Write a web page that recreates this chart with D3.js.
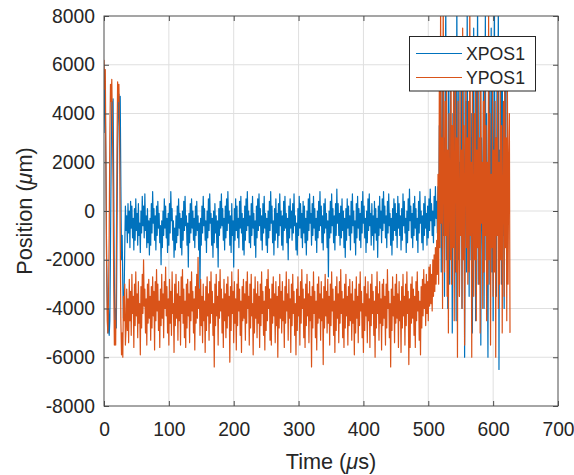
<!DOCTYPE html>
<html><head><meta charset="utf-8">
<script src="https://cdn.jsdelivr.net/npm/d3@7"></script>
<style>
body{margin:0;background:#fff;}
text{font-family:"Liberation Sans",Arial,Helvetica,sans-serif;fill:#262626;}
</style></head>
<body><svg id="c" width="574" height="475"></svg>
<script>
// sampling step of both signals (µs)
const dt = 1;
const seriesNames = ["XPOS1", "YPOS1"];
const xTicks = [0,100,200,300,400,500,600,700];
const yTicks = [-8000,-6000,-4000,-2000,0,2000,4000,6000,8000];

// XPOS1 (µm), one value every 1 µs from t = 0
const xpos1 = [
 3200,5000,4500,1500,-2000,-3500,-5000,-4000,-5100,-4500,-1500,2000,4500,3000,4600,1000,-3000,-5200,-4000,-4800,
 -1000,2500,4000,4800,3500,4700,1000,-2000,-1000,-3000,-4400,-3500,-1500,200,-800,
 -200,-1300,300,-900,0,-1500,400,-700,200,-1100,-300,-1600,
 100,-1200,500,-800,-100,-1400,300,-1000,-500,-1700,0,-900,
 600,-600,200,-1100,700,-800,-200,-1500,100,-1300,-400,-1800,
 -300,-1400,300,-900,800,-500,100,-1200,-200,-1600,200,-1000,
 400,-700,-100,-1300,-600,-2200,-400,-1500,0,-1000,500,-700,
 200,-1100,-300,-1700,-100,-1400,300,-900,800,-400,100,-1200,
 -400,-1900,-700,-1600,-200,-1300,200,-1000,500,-700,-100,-1500,
 -300,-1800,0,-1200,400,-800,600,-600,-200,-1400,-500,-2300,
 -100,-1300,300,-900,500,-700,0,-1200,-300,-1500,200,-1000,
 400,-800,-200,-1600,-500,-3200,-300,-1400,200,-900,600,-600,
 100,-1200,-400,-1700,0,-1100,500,-800,700,-500,-100,-1400,
 -300,-1900,0,-1300,300,-900,-200,-1500,-400,-2300,100,-1000,
 400,-700,700,-600,100,-1200,-300,-1600,200,-1100,500,-800,
 800,-500,0,-1400,-200,-1700,300,-1000,-400,-2300,100,-1200,
 500,-800,200,-1100,-300,-1500,400,-700,600,-900,-100,-1600,
 -300,-1800,200,-1200,500,-800,800,-600,0,-1300,-200,-1500,
 300,-1000,600,-700,-100,-1400,-400,-1900,200,-1100,500,-800,
 700,-600,100,-1200,-200,-1600,300,-900,600,-700,-100,-1400,
 -300,-1700,0,-1100,400,-800,800,-500,200,-1300,-400,-1800,
 100,-1200,500,-900,-100,-1500,300,-1000,700,-600,0,-1400,
 -200,-1600,400,-800,600,-700,-100,-1300,-300,-2000,200,-1100,
 500,-700,0,-1200,300,-900,700,-600,-200,-1600,-500,-1800,
 100,-1000,600,-700,300,-1100,-100,-1500,400,-900,200,-1300,
 -300,-1800,0,-1200,500,-800,700,-500,-100,-1400,300,-1000,
 600,-700,100,-1200,-300,-1700,0,-1100,400,-800,800,-600,
 200,-1300,-200,-1600,300,-900,500,-700,-100,-1500,-400,-2700,
 0,-1100,400,-900,700,-600,100,-1300,-200,-1600,300,-1000,
 900,-500,300,-1000,-100,-1400,200,-1100,500,-800,0,-1500,
 -300,-1900,100,-1200,500,-700,200,-1000,-200,-1600,400,-900,
 700,-600,0,-1300,-400,-1800,300,-1100,600,-700,100,-1200,
 -100,-1500,400,-900,800,-500,200,-1100,-300,-1700,0,-1300,
 500,-800,700,-600,-100,-1400,300,-1000,-200,-1600,400,-900,
 100,-1200,-300,-1900,200,-1000,600,-700,0,-1300,500,-800,
 800,-500,200,-1100,-200,-1500,400,-900,700,-600,-100,-1400,
 -300,-1800,100,-1200,500,-800,300,-1000,-100,-1500,600,-700,
 300,-1000,-200,-1600,100,-1200,700,-600,400,-900,-300,-1700,
 0,-1300,500,-800,900,-400,200,-1100,-100,-1500,300,-1000,
 600,-700,100,-1200,-300,-1700,400,-900,800,-500,0,-1300,
 -200,-1600,300,-1000,600,-700,-100,-1400,200,-1100,500,-800,
 900,-400,300,-1000,0,-1300,600,-600,1000,-300,400,-900,
 1000,-1500,3500,-500,5000,-2500,2000,6500,-1000,3000,-3500,4500,
 8500,-2000,1500,-4000,5500,500,-3000,7000,-1500,2500,-5000,4000,
 -500,6000,-2500,3500,-4500,9000,0,-2000,5000,-3500,2000,-1000,
 7000,-4000,3000,-500,5500,-6000,1500,4500,-2500,8500,-1500,3000,
 -3500,6000,500,-2000,4000,-5000,2500,7500,-1000,3500,-4500,5000,
 -500,9000,-3000,2000,-1500,6500,-5500,3000,500,-2500,5500,-4000,
 2500,8000,-2000,4000,-1000,-6000,3500,6000,-3000,1000,7500,-2500,
 4500,-4500,2000,8500,-1500,3000,-3500,6000,-500,9000,-6500,2500,
 -2000,5000,-3000,7000,-1000,3500,-4000,6500,500,5000
];

// YPOS1 (µm), one value every 1 µs from t = 0
const ypos1 = [
 6200,5000,5800,2000,-2000,-4500,-5000,-3500,-1000,3000,5200,4500,5400,3500,1000,-3000,-5500,-4500,-5500,-2000,
 2500,5300,4500,5200,3000,-1000,-4500,-5900,-5000,-6000,-3500,-4500,-3000,-5500,-4800,
 -3200,-4900,-3600,-5400,-2800,-4500,-3300,-5100,-2600,-4200,-3500,-5600,
 -3000,-4700,-2500,-4300,-3400,-5200,-2900,-4600,-3800,-5900,-3100,-4800,
 -2600,-4200,-2000,-3900,-3200,-5000,-3600,-5500,-3000,-4600,-2800,-4400,
 -3500,-5300,-3100,-4800,-2700,-4300,-3300,-5700,-2900,-4500,-2400,-4100,
 -3000,-4900,-3700,-5600,-3200,-4700,-2600,-4400,-3400,-5200,-2900,-4000,
 -2300,-4300,-3100,-5000,-3600,-5500,-2800,-4600,-3300,-5100,-2500,-4200,
 -3800,-5800,-3000,-4700,-2600,-4400,-3400,-5300,-2900,-4500,-3500,-5500,
 -2700,-4200,-2400,-4600,-3200,-5200,-3700,-5600,-3000,-4800,-2800,-4300,
 -3400,-5400,-2900,-4500,-2500,-4100,-3300,-5000,-3600,-5700,-3100,-4600,
 -2600,-4400,-1900,-4000,-3200,-5100,-2800,-4700,-3500,-5400,-3000,-4500,
 -3700,-5800,-3100,-4900,-2700,-4300,-3400,-5300,-2900,-4600,-2500,-4200,
 -3300,-5100,-3800,-6400,-3000,-4700,-2600,-4300,-3500,-5500,-2900,-4400,
 -2400,-4100,-3200,-5000,-3600,-5600,-2800,-4500,-3400,-5200,-3000,-4800,
 -2700,-4300,-3500,-6200,-3100,-4900,-2500,-4200,-3300,-5400,-2900,-4600,
 -3600,-5700,-3000,-4700,-2400,-4100,-3200,-5100,-3700,-5800,-3100,-4500,
 -2800,-4400,-3400,-5300,-2900,-4600,-2500,-4000,-3500,-5500,-3000,-4800,
 -2600,-4300,-3800,-5900,-3200,-5000,-2700,-4400,-3400,-5200,-2900,-4600,
 -3500,-5600,-3000,-4700,-2500,-4200,-3300,-5100,-3700,-5700,-3100,-4900,
 -2800,-4500,-2400,-4000,-3200,-5300,-3600,-5500,-3000,-4600,-2700,-4300,
 -3400,-5400,-2900,-4700,-3500,-6000,-3100,-4800,-2600,-4400,-3300,-5000,
 -2900,-4500,-3700,-5600,-3100,-4600,-2500,-4100,-3400,-5300,-2800,-4400,
 -3600,-5800,-3000,-4700,-2600,-4200,-3300,-5100,-3800,-5900,-3200,-4900,
 -2700,-4300,-3500,-5500,-2900,-4600,-2400,-4000,-3200,-5200,-3600,-5600,
 -3000,-4700,-2600,-4300,-3400,-5400,-2900,-4500,-3500,-6400,-3100,-4800,
 -2500,-4200,-3300,-5200,-3700,-5700,-3000,-4600,-2700,-4400,-3400,-5300,
 -2900,-4500,-3600,-6300,-3100,-4800,-2600,-4300,-3300,-5000,-2800,-4600,
 -3500,-5500,-3000,-4700,-2500,-4100,-3200,-5100,-3700,-5800,-3100,-4900,
 -2700,-4400,-3400,-5400,-2900,-4600,-2400,-4200,-3300,-5200,-3600,-5600,
 -3000,-4800,-2600,-4300,-3500,-5500,-3100,-4700,-2800,-4500,-3400,-5300,
 -2900,-4600,-3700,-5900,-3200,-5000,-2700,-4400,-3500,-5400,-3000,-4700,
 -2500,-4100,-3300,-5200,-3800,-5800,-3100,-4900,-2700,-4300,-3400,-5400,
 -2900,-4500,-3600,-5600,-3000,-4700,-2600,-4200,-3300,-5100,-3700,-6000,
 -3100,-4800,-2500,-4200,-3400,-5300,-2900,-4600,-3600,-5700,-3000,-4700,
 -2800,-4400,-3500,-5500,-3000,-4800,-2400,-4000,-3300,-5200,-3800,-6400,
 -3200,-4900,-2700,-4300,-3500,-5400,-3000,-4600,-2600,-4400,-3400,-5600,
 -2900,-4500,-3700,-5800,-3100,-4800,-2600,-4300,-3500,-5500,-3000,-4700,
 -2500,-4200,-3300,-6300,-3600,-5600,-3000,-4600,-2700,-4400,-3200,-5100,
 -3500,-5600,-2900,-4500,-2500,-4100,-3300,-5300,-3700,-5900,-3100,-4800,
 -2800,-4300,-2400,-4000,-3000,-4700,-2600,-4200,-2900,-4500,-2300,-3900,
 -2200,-3800,-2600,-4100,-2000,-3500,-1800,-3300,-1500,-3000,-1200,-2600,
 1500,-3000,5000,-1500,8500,-500,3000,-4000,9000,1000,-2500,4500,
 -1000,6000,-3500,2500,-5000,4000,500,-2000,7000,-3000,3500,-1500,
 5500,-4500,1500,6500,-2500,3000,-6000,4500,0,-3500,5000,-1000,
 2500,-4000,7500,-2000,3500,-5500,1000,6000,-1500,3000,-3000,4500,
 -2500,9000,-1000,2000,-6000,5000,500,-3500,4000,-2000,6500,-4500,
 2500,-1500,5500,-3000,3000,-5000,7000,-500,2000,-4000,4500,-2500,
 6000,-1000,3500,-4500,2000,-3000,8000,-2000,4000,-5500,1500,-1500,
 5000,-3500,2500,-2500,4500,-6000,3000,-1000,6500,-4000,2000,-3000,
 5500,-2000,3500,-5000,1000,4500,-3500,7000,-1500,3000,-4500,5000,
 -3000,2000,4000,-5000
];

const colors = ["#0072BD", "#D95319"];

const svg = d3.select("#c");
const L = 104, R = 558, T = 16, B = 406;
const x = d3.scaleLinear().domain([0,700]).range([L,R]);
const y = d3.scaleLinear().domain([-8000,8000]).range([B,T]);

// grid
const g = svg.append("g");
g.selectAll("line.vx").data(xTicks.slice(1,-1)).join("line")
  .attr("x1",d=>x(d)).attr("x2",d=>x(d)).attr("y1",T).attr("y2",B)
  .attr("stroke","#dfdfdf").attr("stroke-width",1);
g.selectAll("line.hy").data(yTicks.slice(1,-1)).join("line")
  .attr("x1",L).attr("x2",R).attr("y1",d=>y(d)).attr("y2",d=>y(d))
  .attr("stroke","#dfdfdf").attr("stroke-width",1);

// data
svg.append("clipPath").attr("id","clip").append("rect")
  .attr("x",L).attr("y",T).attr("width",R-L).attr("height",B-T);
const line = d3.line().x((d,i)=>x(i*dt)).y(d=>y(d));
const plot = svg.append("g").attr("clip-path","url(#clip)");
[xpos1, ypos1].forEach((s,k)=>{
  plot.append("path").datum(s).attr("d",line)
    .attr("fill","none").attr("stroke",colors[k]).attr("stroke-width",1.2)
    .attr("stroke-linejoin","round");
});

// axes (inward ticks, mirrored)
const axColor = "#4d4d4d";
const ax = svg.append("g");
const fs = "19.3px";
const fmt = d => String(d);
const axB = ax.append("g").attr("transform",`translate(0,${B})`)
  .call(d3.axisBottom(x).tickValues(xTicks).tickFormat(fmt).tickSizeInner(-5).tickSizeOuter(0).tickPadding(16));
const axL = ax.append("g").attr("transform",`translate(${L},0)`)
  .call(d3.axisLeft(y).tickValues(yTicks).tickFormat(fmt).tickSizeInner(-5).tickSizeOuter(0).tickPadding(9));
const axT = ax.append("g").attr("transform",`translate(0,${T})`)
  .call(d3.axisTop(x).tickValues(xTicks).tickSizeInner(-5).tickSizeOuter(0).tickFormat(""));
const axR = ax.append("g").attr("transform",`translate(${R},0)`)
  .call(d3.axisRight(y).tickValues(yTicks).tickSizeInner(-5).tickSizeOuter(0).tickFormat(""));
[axB,axL,axT,axR].forEach(a=>{
  a.select(".domain").remove();
  a.selectAll(".tick line").attr("stroke",axColor);
  a.selectAll(".tick text").attr("font-size",fs).attr("font-family","Liberation Sans, Arial, sans-serif").attr("fill","#262626");
});
axB.selectAll(".tick text").attr("dy","0.71em");
ax.append("rect").attr("x",L).attr("y",T).attr("width",R-L).attr("height",B-T)
  .attr("fill","none").attr("stroke",axColor).attr("stroke-width",1);

// axis labels
const xl = svg.append("text").attr("x",(L+R)/2).attr("y",469).attr("text-anchor","middle").attr("font-size","21.7px");
xl.append("tspan").text("Time (");
xl.append("tspan").attr("font-style","italic").text("\u03bc");
xl.append("tspan").text("s)");
const yl = svg.append("text").attr("transform",`translate(32,${(T+B)/2}) rotate(-90)`).attr("text-anchor","middle").attr("font-size","21.7px");
yl.append("tspan").text("Position (");
yl.append("tspan").attr("font-style","italic").text("\u03bc");
yl.append("tspan").text("m)");

// legend
const lg = svg.append("g");
lg.append("rect").attr("x",409.5).attr("y",36.5).attr("width",126).attr("height",54.5)
  .attr("fill","#fff").attr("stroke","#262626").attr("stroke-width",1);
seriesNames.forEach((n,k)=>{
  const yy = 53.5 + k*24;
  lg.append("line").attr("x1",416).attr("x2",462).attr("y1",yy).attr("y2",yy)
    .attr("stroke",colors[k]).attr("stroke-width",1.2);
  lg.append("text").attr("x",466).attr("y",yy).attr("dy","0.36em").attr("font-size","17.7px").text(n);
});
</script></body></html>
